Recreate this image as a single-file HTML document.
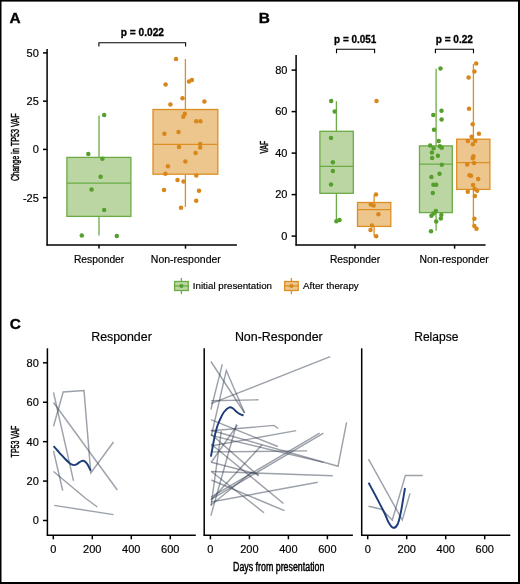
<!DOCTYPE html>
<html><head><meta charset="utf-8"><style>
html,body{margin:0;padding:0;background:#fff;}
svg{display:block;}
text{font-family:"Liberation Sans", sans-serif;fill:#000;}
text.n{stroke:#000;stroke-width:0.18px;}
</style></head><body>
<div style="will-change:transform;width:520px;height:584px"><svg width="520" height="584" viewBox="0 0 520 584">
<rect width="520" height="584" fill="#fff"/>
<rect x="0" y="0" width="520" height="1.6" fill="#000"/><rect x="0" y="0" width="1.5" height="584" fill="#000"/><rect x="518" y="0" width="2" height="584" fill="#000"/><rect x="0" y="582" width="520" height="2" fill="#000"/>
<text transform="translate(9.6,22.7) scale(0.1)" x="0" y="0" font-size="154" font-weight="bold" stroke="#000" stroke-width="3.5">A</text>
<text transform="translate(258.8,22.7) scale(0.1)" x="0" y="0" font-size="154" font-weight="bold" stroke="#000" stroke-width="3.5">B</text>
<text transform="translate(9.8,328.5) scale(0.1)" x="0" y="0" font-size="154" font-weight="bold" stroke="#000" stroke-width="3.5">C</text>
<line x1="47.1" y1="49.1" x2="47.1" y2="245.6" stroke="#000" stroke-width="1.5" />
<line x1="46.5" y1="245.0" x2="236.9" y2="245.0" stroke="#000" stroke-width="1.5" />
<line x1="43" y1="52.9" x2="47.1" y2="52.9" stroke="#000" stroke-width="1.5" />
<text class="n" x="38.8" y="56.75" font-size="11" text-anchor="end" font-weight="normal" >50</text>
<line x1="43" y1="101.15" x2="47.1" y2="101.15" stroke="#000" stroke-width="1.5" />
<text class="n" x="38.8" y="105.0" font-size="11" text-anchor="end" font-weight="normal" >25</text>
<line x1="43" y1="149.4" x2="47.1" y2="149.4" stroke="#000" stroke-width="1.5" />
<text class="n" x="38.8" y="153.25" font-size="11" text-anchor="end" font-weight="normal" >0</text>
<line x1="43" y1="197.65" x2="47.1" y2="197.65" stroke="#000" stroke-width="1.5" />
<text class="n" x="38.8" y="201.5" font-size="11" text-anchor="end" font-weight="normal" >-25</text>
<line x1="99" y1="245" x2="99" y2="248.6" stroke="#000" stroke-width="1.5" />
<line x1="185.5" y1="245" x2="185.5" y2="248.6" stroke="#000" stroke-width="1.5" />
<text class="n" x="99.1" y="262.6" font-size="10.4" text-anchor="middle" font-weight="normal" textLength="50.4" lengthAdjust="spacingAndGlyphs" >Responder</text>
<text class="n" x="185.8" y="262.6" font-size="10.4" text-anchor="middle" font-weight="normal" textLength="70" lengthAdjust="spacingAndGlyphs" >Non-responder</text>
<text transform="translate(19.1,147.2) rotate(-90)" x="0" y="0" font-size="10.9" text-anchor="middle" textLength="67.5" lengthAdjust="spacingAndGlyphs" stroke="#000" stroke-width="0.45">Change in TP53 VAF</text>
<path d="M98.9,46.6 V42.8 H185.6 V46.6" fill="none" stroke="#000" stroke-width="1.1"/>
<text x="142.4" y="35.85" font-size="10.3" text-anchor="middle" font-weight="bold" textLength="43.2" lengthAdjust="spacingAndGlyphs" stroke="#000" stroke-width="0.3">p = 0.022</text>
<line x1="99" y1="115.4" x2="99" y2="157.4" stroke="#6aab46" stroke-width="1.3"/>
<line x1="99" y1="216.4" x2="99" y2="235.4" stroke="#6aab46" stroke-width="1.3"/>
<rect x="66.9" y="157.4" width="64.0" height="59.0" fill="#bcd6a3" stroke="#6aab46" stroke-width="1.3"/>
<line x1="66.9" y1="183.2" x2="130.9" y2="183.2" stroke="#6aab46" stroke-width="1.3"/>
<circle cx="104.2" cy="114.9" r="2.25" fill="#55a02c"/>
<circle cx="88.3" cy="153.9" r="2.25" fill="#55a02c"/>
<circle cx="102.4" cy="158.8" r="2.25" fill="#55a02c"/>
<circle cx="100.6" cy="176.8" r="2.25" fill="#55a02c"/>
<circle cx="91.6" cy="189.4" r="2.25" fill="#55a02c"/>
<circle cx="104.2" cy="209.9" r="2.25" fill="#55a02c"/>
<circle cx="81.8" cy="235.6" r="2.25" fill="#55a02c"/>
<circle cx="116.8" cy="236.1" r="2.25" fill="#55a02c"/>
<line x1="185.4" y1="59" x2="185.4" y2="109.5" stroke="#dd8e22" stroke-width="1.3"/>
<line x1="185.4" y1="174.2" x2="185.4" y2="207" stroke="#dd8e22" stroke-width="1.3"/>
<rect x="153.0" y="109.5" width="64.8" height="64.7" fill="#edc68e" stroke="#dd8e22" stroke-width="1.3"/>
<line x1="153.0" y1="144.3" x2="217.8" y2="144.3" stroke="#dd8e22" stroke-width="1.3"/>
<circle cx="176.0" cy="59.0" r="2.25" fill="#d9861a"/>
<circle cx="165.6" cy="84.4" r="2.25" fill="#d9861a"/>
<circle cx="189.0" cy="81.5" r="2.25" fill="#d9861a"/>
<circle cx="191.9" cy="80.0" r="2.25" fill="#d9861a"/>
<circle cx="182.5" cy="98.3" r="2.25" fill="#d9861a"/>
<circle cx="170.4" cy="104.4" r="2.25" fill="#d9861a"/>
<circle cx="204.4" cy="101.5" r="2.25" fill="#d9861a"/>
<circle cx="184.8" cy="113.7" r="2.25" fill="#d9861a"/>
<circle cx="183.3" cy="116.7" r="2.25" fill="#d9861a"/>
<circle cx="196.2" cy="121.2" r="2.25" fill="#d9861a"/>
<circle cx="200.4" cy="121.2" r="2.25" fill="#d9861a"/>
<circle cx="164.4" cy="133.7" r="2.25" fill="#d9861a"/>
<circle cx="178.5" cy="131.9" r="2.25" fill="#d9861a"/>
<circle cx="179.0" cy="146.9" r="2.25" fill="#d9861a"/>
<circle cx="200.2" cy="144.0" r="2.25" fill="#d9861a"/>
<circle cx="200.2" cy="147.5" r="2.25" fill="#d9861a"/>
<circle cx="195.6" cy="152.9" r="2.25" fill="#d9861a"/>
<circle cx="185.4" cy="161.5" r="2.25" fill="#d9861a"/>
<circle cx="167.9" cy="166.2" r="2.25" fill="#d9861a"/>
<circle cx="165.4" cy="173.8" r="2.25" fill="#d9861a"/>
<circle cx="196.3" cy="175.4" r="2.25" fill="#d9861a"/>
<circle cx="177.5" cy="180.0" r="2.25" fill="#d9861a"/>
<circle cx="183.5" cy="181.5" r="2.25" fill="#d9861a"/>
<circle cx="164.0" cy="190.0" r="2.25" fill="#d9861a"/>
<circle cx="199.0" cy="190.8" r="2.25" fill="#d9861a"/>
<circle cx="196.2" cy="200.8" r="2.25" fill="#d9861a"/>
<circle cx="181.0" cy="207.7" r="2.25" fill="#d9861a"/>
<line x1="296.1" y1="54.9" x2="296.1" y2="245.6" stroke="#000" stroke-width="1.5" />
<line x1="295.5" y1="245.0" x2="485.6" y2="245.0" stroke="#000" stroke-width="1.5" />
<line x1="291.6" y1="236.1" x2="296.1" y2="236.1" stroke="#000" stroke-width="1.5" />
<text class="n" x="287.4" y="239.95" font-size="11" text-anchor="end" font-weight="normal" >0</text>
<line x1="291.6" y1="194.6" x2="296.1" y2="194.6" stroke="#000" stroke-width="1.5" />
<text class="n" x="287.4" y="198.45" font-size="11" text-anchor="end" font-weight="normal" >20</text>
<line x1="291.6" y1="153.1" x2="296.1" y2="153.1" stroke="#000" stroke-width="1.5" />
<text class="n" x="287.4" y="156.95" font-size="11" text-anchor="end" font-weight="normal" >40</text>
<line x1="291.6" y1="111.6" x2="296.1" y2="111.6" stroke="#000" stroke-width="1.5" />
<text class="n" x="287.4" y="115.45" font-size="11" text-anchor="end" font-weight="normal" >60</text>
<line x1="291.6" y1="70.1" x2="296.1" y2="70.1" stroke="#000" stroke-width="1.5" />
<text class="n" x="287.4" y="73.95" font-size="11" text-anchor="end" font-weight="normal" >80</text>
<line x1="355.0" y1="245" x2="355.0" y2="248.6" stroke="#000" stroke-width="1.5" />
<line x1="454.6" y1="245" x2="454.6" y2="248.6" stroke="#000" stroke-width="1.5" />
<text class="n" x="355.0" y="262.6" font-size="10.4" text-anchor="middle" font-weight="normal" textLength="50.2" lengthAdjust="spacingAndGlyphs" >Responder</text>
<text class="n" x="454.2" y="262.6" font-size="10.4" text-anchor="middle" font-weight="normal" textLength="69.2" lengthAdjust="spacingAndGlyphs" >Non-responder</text>
<text transform="translate(267.6,147.2) rotate(-90)" x="0" y="0" font-size="11.4" text-anchor="middle" textLength="12.8" lengthAdjust="spacingAndGlyphs" stroke="#000" stroke-width="0.45">VAF</text>
<path d="M336.5,53.2 V49.3 H374.6 V53.2" fill="none" stroke="#000" stroke-width="1.1"/>
<path d="M435.4,53.2 V49.3 H473.5 V53.2" fill="none" stroke="#000" stroke-width="1.1"/>
<text x="355.2" y="42.85" font-size="10.1" text-anchor="middle" font-weight="bold" textLength="42.3" lengthAdjust="spacingAndGlyphs" stroke="#000" stroke-width="0.3">p = 0.051</text>
<text x="454.3" y="42.85" font-size="10.1" text-anchor="middle" font-weight="bold" textLength="37.2" lengthAdjust="spacingAndGlyphs" stroke="#000" stroke-width="0.3">p = 0.22</text>
<line x1="336.4" y1="101.2" x2="336.4" y2="131.3" stroke="#6aab46" stroke-width="1.3"/>
<line x1="336.4" y1="193.3" x2="336.4" y2="220.3" stroke="#6aab46" stroke-width="1.3"/>
<rect x="319.9" y="131.3" width="33.4" height="62.0" fill="#bcd6a3" stroke="#6aab46" stroke-width="1.3"/>
<line x1="319.9" y1="166.4" x2="353.3" y2="166.4" stroke="#6aab46" stroke-width="1.3"/>
<circle cx="331.2" cy="101.0" r="2.25" fill="#55a02c"/>
<circle cx="334.7" cy="111.5" r="2.25" fill="#55a02c"/>
<circle cx="331.0" cy="138.0" r="2.25" fill="#55a02c"/>
<circle cx="332.9" cy="162.3" r="2.25" fill="#55a02c"/>
<circle cx="332.9" cy="171.0" r="2.25" fill="#55a02c"/>
<circle cx="331.0" cy="184.4" r="2.25" fill="#55a02c"/>
<circle cx="336.4" cy="221.2" r="2.25" fill="#55a02c"/>
<circle cx="339.5" cy="220.0" r="2.25" fill="#55a02c"/>
<line x1="374.1" y1="195.1" x2="374.1" y2="202.5" stroke="#dd8e22" stroke-width="1.3"/>
<line x1="374.1" y1="226.4" x2="374.1" y2="236.2" stroke="#dd8e22" stroke-width="1.3"/>
<rect x="357.5" y="202.5" width="33.3" height="23.9" fill="#edc68e" stroke="#dd8e22" stroke-width="1.3"/>
<line x1="357.5" y1="209.7" x2="390.8" y2="209.7" stroke="#dd8e22" stroke-width="1.3"/>
<circle cx="376.5" cy="100.9" r="2.25" fill="#d9861a"/>
<circle cx="376.0" cy="194.6" r="2.25" fill="#d9861a"/>
<circle cx="370.8" cy="204.4" r="2.25" fill="#d9861a"/>
<circle cx="373.6" cy="205.6" r="2.25" fill="#d9861a"/>
<circle cx="378.4" cy="214.3" r="2.25" fill="#d9861a"/>
<circle cx="371.9" cy="225.4" r="2.25" fill="#d9861a"/>
<circle cx="370.5" cy="230.0" r="2.25" fill="#d9861a"/>
<circle cx="376.2" cy="236.2" r="2.25" fill="#d9861a"/>
<line x1="436.1" y1="68.7" x2="436.1" y2="145.9" stroke="#6aab46" stroke-width="1.3"/>
<line x1="436.1" y1="212.6" x2="436.1" y2="230.8" stroke="#6aab46" stroke-width="1.3"/>
<rect x="419.5" y="145.9" width="32.8" height="66.7" fill="#bcd6a3" stroke="#6aab46" stroke-width="1.3"/>
<line x1="419.5" y1="164.2" x2="452.3" y2="164.2" stroke="#6aab46" stroke-width="1.3"/>
<circle cx="440.5" cy="68.4" r="2.25" fill="#55a02c"/>
<circle cx="441.5" cy="110.8" r="2.25" fill="#55a02c"/>
<circle cx="433.3" cy="114.9" r="2.25" fill="#55a02c"/>
<circle cx="441.6" cy="119.4" r="2.25" fill="#55a02c"/>
<circle cx="434.0" cy="129.7" r="2.25" fill="#55a02c"/>
<circle cx="438.7" cy="141.1" r="2.25" fill="#55a02c"/>
<circle cx="430.2" cy="145.4" r="2.25" fill="#55a02c"/>
<circle cx="433.6" cy="148.3" r="2.25" fill="#55a02c"/>
<circle cx="439.8" cy="146.2" r="2.25" fill="#55a02c"/>
<circle cx="441.8" cy="147.7" r="2.25" fill="#55a02c"/>
<circle cx="431.9" cy="152.6" r="2.25" fill="#55a02c"/>
<circle cx="437.9" cy="155.7" r="2.25" fill="#55a02c"/>
<circle cx="432.1" cy="157.9" r="2.25" fill="#55a02c"/>
<circle cx="441.8" cy="164.7" r="2.25" fill="#55a02c"/>
<circle cx="439.5" cy="173.8" r="2.25" fill="#55a02c"/>
<circle cx="431.4" cy="177.0" r="2.25" fill="#55a02c"/>
<circle cx="433.4" cy="184.8" r="2.25" fill="#55a02c"/>
<circle cx="436.2" cy="184.8" r="2.25" fill="#55a02c"/>
<circle cx="432.8" cy="193.0" r="2.25" fill="#55a02c"/>
<circle cx="435.9" cy="211.0" r="2.25" fill="#55a02c"/>
<circle cx="433.6" cy="213.4" r="2.25" fill="#55a02c"/>
<circle cx="431.4" cy="215.7" r="2.25" fill="#55a02c"/>
<circle cx="441.3" cy="214.9" r="2.25" fill="#55a02c"/>
<circle cx="440.8" cy="218.5" r="2.25" fill="#55a02c"/>
<circle cx="436.2" cy="221.6" r="2.25" fill="#55a02c"/>
<circle cx="431.0" cy="231.3" r="2.25" fill="#55a02c"/>
<line x1="473.4" y1="64.0" x2="473.4" y2="139.2" stroke="#dd8e22" stroke-width="1.3"/>
<line x1="473.4" y1="189.4" x2="473.4" y2="227.2" stroke="#dd8e22" stroke-width="1.3"/>
<rect x="456.7" y="139.2" width="33.2" height="50.2" fill="#edc68e" stroke="#dd8e22" stroke-width="1.3"/>
<line x1="456.7" y1="162.6" x2="489.9" y2="162.6" stroke="#dd8e22" stroke-width="1.3"/>
<circle cx="476.2" cy="63.5" r="2.25" fill="#d9861a"/>
<circle cx="474.4" cy="71.4" r="2.25" fill="#d9861a"/>
<circle cx="468.6" cy="77.6" r="2.25" fill="#d9861a"/>
<circle cx="469.0" cy="108.8" r="2.25" fill="#d9861a"/>
<circle cx="472.7" cy="124.2" r="2.25" fill="#d9861a"/>
<circle cx="478.9" cy="133.8" r="2.25" fill="#d9861a"/>
<circle cx="471.6" cy="136.7" r="2.25" fill="#d9861a"/>
<circle cx="467.8" cy="141.1" r="2.25" fill="#d9861a"/>
<circle cx="475.2" cy="141.1" r="2.25" fill="#d9861a"/>
<circle cx="472.8" cy="144.2" r="2.25" fill="#d9861a"/>
<circle cx="473.4" cy="156.2" r="2.25" fill="#d9861a"/>
<circle cx="472.8" cy="158.2" r="2.25" fill="#d9861a"/>
<circle cx="474.1" cy="162.9" r="2.25" fill="#d9861a"/>
<circle cx="467.2" cy="164.4" r="2.25" fill="#d9861a"/>
<circle cx="469.5" cy="175.2" r="2.25" fill="#d9861a"/>
<circle cx="471.0" cy="175.7" r="2.25" fill="#d9861a"/>
<circle cx="478.2" cy="179.1" r="2.25" fill="#d9861a"/>
<circle cx="473.1" cy="184.9" r="2.25" fill="#d9861a"/>
<circle cx="474.6" cy="189.0" r="2.25" fill="#d9861a"/>
<circle cx="477.2" cy="190.8" r="2.25" fill="#d9861a"/>
<circle cx="467.8" cy="191.8" r="2.25" fill="#d9861a"/>
<circle cx="474.9" cy="196.1" r="2.25" fill="#d9861a"/>
<circle cx="474.4" cy="218.8" r="2.25" fill="#d9861a"/>
<circle cx="474.4" cy="226.0" r="2.25" fill="#d9861a"/>
<circle cx="476.5" cy="228.8" r="2.25" fill="#d9861a"/>
<line x1="181.4" y1="278" x2="181.4" y2="294.1" stroke="#6aab46" stroke-width="1.3"/>
<rect x="174.6" y="281.5" width="13.7" height="9" fill="#bcd6a3" stroke="#6aab46" stroke-width="1.3"/>
<line x1="174.6" y1="286" x2="188.3" y2="286" stroke="#6aab46" stroke-width="1.3"/>
<circle cx="181.4" cy="286" r="2.1" fill="#55a02c"/>
<line x1="291.4" y1="278" x2="291.4" y2="294.1" stroke="#dd8e22" stroke-width="1.3"/>
<rect x="284.6" y="281.5" width="13.6" height="9" fill="#edc68e" stroke="#dd8e22" stroke-width="1.3"/>
<line x1="284.6" y1="286" x2="298.2" y2="286" stroke="#dd8e22" stroke-width="1.3"/>
<circle cx="291.4" cy="286" r="2.1" fill="#d9861a"/>
<text class="n" x="192.8" y="289.4" font-size="9.9" text-anchor="start" font-weight="normal" textLength="79.2" lengthAdjust="spacingAndGlyphs" >Initial presentation</text>
<text class="n" x="303.1" y="289.4" font-size="9.9" text-anchor="start" font-weight="normal" textLength="55.6" lengthAdjust="spacingAndGlyphs" >After therapy</text>
<line x1="47.4" y1="348.3" x2="47.4" y2="535.8" stroke="#000" stroke-width="1.5" />
<line x1="46.8" y1="535.2" x2="195.8" y2="535.2" stroke="#000" stroke-width="1.5" />
<line x1="53.3" y1="535.2" x2="53.3" y2="539.3" stroke="#000" stroke-width="1.5" />
<text class="n" x="53.3" y="553.0" font-size="11" text-anchor="middle" font-weight="normal" >0</text>
<line x1="92.3" y1="535.2" x2="92.3" y2="539.3" stroke="#000" stroke-width="1.5" />
<text class="n" x="92.3" y="553.0" font-size="11" text-anchor="middle" font-weight="normal" >200</text>
<line x1="131.3" y1="535.2" x2="131.3" y2="539.3" stroke="#000" stroke-width="1.5" />
<text class="n" x="131.3" y="553.0" font-size="11" text-anchor="middle" font-weight="normal" >400</text>
<line x1="170.3" y1="535.2" x2="170.3" y2="539.3" stroke="#000" stroke-width="1.5" />
<text class="n" x="170.3" y="553.0" font-size="11" text-anchor="middle" font-weight="normal" >600</text>
<text class="n" x="121.5" y="341.4" font-size="12.3" text-anchor="middle" font-weight="normal" textLength="60.6" lengthAdjust="spacingAndGlyphs" >Responder</text>
<line x1="204.2" y1="348.3" x2="204.2" y2="535.8" stroke="#000" stroke-width="1.5" />
<line x1="203.6" y1="535.2" x2="352.9" y2="535.2" stroke="#000" stroke-width="1.5" />
<line x1="210.4" y1="535.2" x2="210.4" y2="539.3" stroke="#000" stroke-width="1.5" />
<text class="n" x="210.4" y="553.0" font-size="11" text-anchor="middle" font-weight="normal" >0</text>
<line x1="249.4" y1="535.2" x2="249.4" y2="539.3" stroke="#000" stroke-width="1.5" />
<text class="n" x="249.4" y="553.0" font-size="11" text-anchor="middle" font-weight="normal" >200</text>
<line x1="288.4" y1="535.2" x2="288.4" y2="539.3" stroke="#000" stroke-width="1.5" />
<text class="n" x="288.4" y="553.0" font-size="11" text-anchor="middle" font-weight="normal" >400</text>
<line x1="327.4" y1="535.2" x2="327.4" y2="539.3" stroke="#000" stroke-width="1.5" />
<text class="n" x="327.4" y="553.0" font-size="11" text-anchor="middle" font-weight="normal" >600</text>
<text class="n" x="278.8" y="341.4" font-size="12.3" text-anchor="middle" font-weight="normal" textLength="87.8" lengthAdjust="spacingAndGlyphs" >Non-Responder</text>
<line x1="361.7" y1="348.3" x2="361.7" y2="535.8" stroke="#000" stroke-width="1.5" />
<line x1="361.1" y1="535.2" x2="510.3" y2="535.2" stroke="#000" stroke-width="1.5" />
<line x1="367.7" y1="535.2" x2="367.7" y2="539.3" stroke="#000" stroke-width="1.5" />
<text class="n" x="367.7" y="553.0" font-size="11" text-anchor="middle" font-weight="normal" >0</text>
<line x1="406.7" y1="535.2" x2="406.7" y2="539.3" stroke="#000" stroke-width="1.5" />
<text class="n" x="406.7" y="553.0" font-size="11" text-anchor="middle" font-weight="normal" >200</text>
<line x1="445.7" y1="535.2" x2="445.7" y2="539.3" stroke="#000" stroke-width="1.5" />
<text class="n" x="445.7" y="553.0" font-size="11" text-anchor="middle" font-weight="normal" >400</text>
<line x1="484.7" y1="535.2" x2="484.7" y2="539.3" stroke="#000" stroke-width="1.5" />
<text class="n" x="484.7" y="553.0" font-size="11" text-anchor="middle" font-weight="normal" >600</text>
<text class="n" x="436.35" y="341.4" font-size="12.3" text-anchor="middle" font-weight="normal" textLength="44.3" lengthAdjust="spacingAndGlyphs" >Relapse</text>
<line x1="43" y1="520.5" x2="47.4" y2="520.5" stroke="#000" stroke-width="1.5" />
<text class="n" x="38.8" y="524.35" font-size="11" text-anchor="end" font-weight="normal" >0</text>
<line x1="43" y1="481.08" x2="47.4" y2="481.08" stroke="#000" stroke-width="1.5" />
<text class="n" x="38.8" y="484.93" font-size="11" text-anchor="end" font-weight="normal" >20</text>
<line x1="43" y1="441.66" x2="47.4" y2="441.66" stroke="#000" stroke-width="1.5" />
<text class="n" x="38.8" y="445.51" font-size="11" text-anchor="end" font-weight="normal" >40</text>
<line x1="43" y1="402.24" x2="47.4" y2="402.24" stroke="#000" stroke-width="1.5" />
<text class="n" x="38.8" y="406.09" font-size="11" text-anchor="end" font-weight="normal" >60</text>
<line x1="43" y1="362.82" x2="47.4" y2="362.82" stroke="#000" stroke-width="1.5" />
<text class="n" x="38.8" y="366.67" font-size="11" text-anchor="end" font-weight="normal" >80</text>
<text transform="translate(19.1,441.5) rotate(-90)" x="0" y="0" font-size="11" text-anchor="middle" textLength="31.8" lengthAdjust="spacingAndGlyphs" stroke="#000" stroke-width="0.45">TP53 VAF</text>
<text x="278.7" y="570.9" font-size="12" text-anchor="middle" textLength="91.4" lengthAdjust="spacingAndGlyphs" stroke="#000" stroke-width="0.45">Days from presentation</text>
<polyline points="53.5,426.2 63.2,392 84,390.5 90.8,473 113.5,442" fill="none" stroke="#3a4356" stroke-opacity="0.5" stroke-width="1.45" stroke-linejoin="miter"/>
<polyline points="53.5,392.3 73.5,480.8" fill="none" stroke="#3a4356" stroke-opacity="0.5" stroke-width="1.45" stroke-linejoin="miter"/>
<polyline points="53.5,402.5 117.3,490" fill="none" stroke="#3a4356" stroke-opacity="0.5" stroke-width="1.45" stroke-linejoin="miter"/>
<polyline points="53.5,450.8 62.7,490.5" fill="none" stroke="#3a4356" stroke-opacity="0.5" stroke-width="1.45" stroke-linejoin="miter"/>
<polyline points="53.5,471.5 85.8,498.5 97.3,507" fill="none" stroke="#3a4356" stroke-opacity="0.5" stroke-width="1.45" stroke-linejoin="miter"/>
<polyline points="54.2,505.4 113.5,514.6" fill="none" stroke="#3a4356" stroke-opacity="0.5" stroke-width="1.45" stroke-linejoin="miter"/>
<path d="M53.6,446.1 C54.25,446.83 56.23,449.07 57.5,450.5 C58.77,451.93 59.92,453.28 61.2,454.7 C62.48,456.12 63.93,457.72 65.2,459 C66.47,460.28 67.75,461.50 68.8,462.4 C69.85,463.30 70.63,463.95 71.5,464.4 C72.37,464.85 73.17,465.10 74,465.1 C74.83,465.10 75.63,464.87 76.5,464.4 C77.37,463.93 78.13,462.90 79.2,462.3 C80.27,461.70 81.83,460.85 82.9,460.8 C83.97,460.75 84.82,461.37 85.6,462 C86.38,462.63 86.75,463.15 87.6,464.6 C88.45,466.05 90.18,469.68 90.7,470.7" fill="none" stroke="#1e3c78" stroke-width="1.95" stroke-linecap="butt"/>
<polyline points="210.9,361.5 244.6,413" fill="none" stroke="#3a4356" stroke-opacity="0.5" stroke-width="1.45" stroke-linejoin="miter"/>
<polyline points="210.9,409.5 222.3,364.4" fill="none" stroke="#3a4356" stroke-opacity="0.5" stroke-width="1.45" stroke-linejoin="miter"/>
<polyline points="211.3,435.8 226.3,370.5 244.6,413" fill="none" stroke="#3a4356" stroke-opacity="0.5" stroke-width="1.45" stroke-linejoin="miter"/>
<polyline points="210.9,403.7 330.2,356.7" fill="none" stroke="#3a4356" stroke-opacity="0.5" stroke-width="1.45" stroke-linejoin="miter"/>
<polyline points="211.2,400.8 258.5,399.8" fill="none" stroke="#3a4356" stroke-opacity="0.5" stroke-width="1.45" stroke-linejoin="miter"/>
<polyline points="210.9,419.6 277.8,446.5" fill="none" stroke="#3a4356" stroke-opacity="0.5" stroke-width="1.45" stroke-linejoin="miter"/>
<polyline points="210.9,430.8 274,425.4 278.2,428.5" fill="none" stroke="#3a4356" stroke-opacity="0.5" stroke-width="1.45" stroke-linejoin="miter"/>
<polyline points="211,446 296.2,430.6" fill="none" stroke="#3a4356" stroke-opacity="0.5" stroke-width="1.45" stroke-linejoin="miter"/>
<polyline points="210.9,451.9 307.1,450.9" fill="none" stroke="#3a4356" stroke-opacity="0.5" stroke-width="1.45" stroke-linejoin="miter"/>
<polyline points="211,430.3 338,466.3 346.6,422.3" fill="none" stroke="#3a4356" stroke-opacity="0.5" stroke-width="1.45" stroke-linejoin="miter"/>
<polyline points="210.9,435.4 323.6,462.4" fill="none" stroke="#3a4356" stroke-opacity="0.5" stroke-width="1.45" stroke-linejoin="miter"/>
<polyline points="211.3,471.5 332.8,475.7" fill="none" stroke="#3a4356" stroke-opacity="0.5" stroke-width="1.45" stroke-linejoin="miter"/>
<polyline points="211,497.2 319.6,433.1" fill="none" stroke="#3a4356" stroke-opacity="0.5" stroke-width="1.45" stroke-linejoin="miter"/>
<polyline points="211,499.4 323.5,433.2" fill="none" stroke="#3a4356" stroke-opacity="0.5" stroke-width="1.45" stroke-linejoin="miter"/>
<polyline points="211,502 317.8,482.3" fill="none" stroke="#3a4356" stroke-opacity="0.5" stroke-width="1.45" stroke-linejoin="miter"/>
<polyline points="211.3,480 284.5,510.7" fill="none" stroke="#3a4356" stroke-opacity="0.5" stroke-width="1.45" stroke-linejoin="miter"/>
<polyline points="211,444 283.5,503.5" fill="none" stroke="#3a4356" stroke-opacity="0.5" stroke-width="1.45" stroke-linejoin="miter"/>
<polyline points="211.3,471.5 264,512.7" fill="none" stroke="#3a4356" stroke-opacity="0.5" stroke-width="1.45" stroke-linejoin="miter"/>
<polyline points="211,500 262.1,444.8" fill="none" stroke="#3a4356" stroke-opacity="0.5" stroke-width="1.45" stroke-linejoin="miter"/>
<polyline points="211,434 258.6,476" fill="none" stroke="#3a4356" stroke-opacity="0.5" stroke-width="1.45" stroke-linejoin="miter"/>
<polyline points="211.3,462.3 259,474.5" fill="none" stroke="#3a4356" stroke-opacity="0.5" stroke-width="1.45" stroke-linejoin="miter"/>
<polyline points="211.1,462.5 237.3,425.2" fill="none" stroke="#3a4356" stroke-opacity="0.5" stroke-width="1.45" stroke-linejoin="miter"/>
<polyline points="210.9,515.6 236.5,424.2" fill="none" stroke="#3a4356" stroke-opacity="0.5" stroke-width="1.45" stroke-linejoin="miter"/>
<polyline points="211,506 221.3,431.2" fill="none" stroke="#3a4356" stroke-opacity="0.5" stroke-width="1.45" stroke-linejoin="miter"/>
<polyline points="211,505 252,472" fill="none" stroke="#3a4356" stroke-opacity="0.5" stroke-width="1.45" stroke-linejoin="miter"/>
<path d="M210.9,456.6 C211.25,454.67 212.27,448.85 213,445 C213.73,441.15 214.52,436.83 215.3,433.5 C216.08,430.17 216.92,427.32 217.7,425 C218.48,422.68 218.95,421.77 220,419.6 C221.05,417.43 222.43,414.05 224,412 C225.57,409.95 227.90,407.88 229.4,407.3 C230.90,406.72 231.82,407.77 233,408.5 C234.18,409.23 235.33,410.75 236.5,411.7 C237.67,412.65 238.82,413.58 240,414.2 C241.18,414.82 243.00,415.20 243.6,415.4" fill="none" stroke="#1e3c78" stroke-width="1.95" stroke-linecap="butt"/>
<polyline points="368.5,459.2 402.3,520 410,493.4" fill="none" stroke="#3a4356" stroke-opacity="0.5" stroke-width="1.45" stroke-linejoin="miter"/>
<polyline points="368.5,506.2 381.5,509.2 392.3,520 405.4,475.4 422.8,475.4" fill="none" stroke="#3a4356" stroke-opacity="0.5" stroke-width="1.45" stroke-linejoin="miter"/>
<path d="M368.6,482.8 C369.92,485.25 373.85,492.47 376.5,497.5 C379.15,502.53 382.45,508.78 384.5,513 C386.55,517.22 387.35,520.33 388.8,522.8 C390.25,525.27 391.75,527.52 393.2,527.8 C394.65,528.08 396.28,526.80 397.5,524.5 C398.72,522.20 399.58,518.08 400.5,514 C401.42,509.92 402.25,504.33 403,500 C403.75,495.67 404.67,490.00 405,488" fill="none" stroke="#1e3c78" stroke-width="1.95" stroke-linecap="butt"/>
</svg></div>
</body></html>
